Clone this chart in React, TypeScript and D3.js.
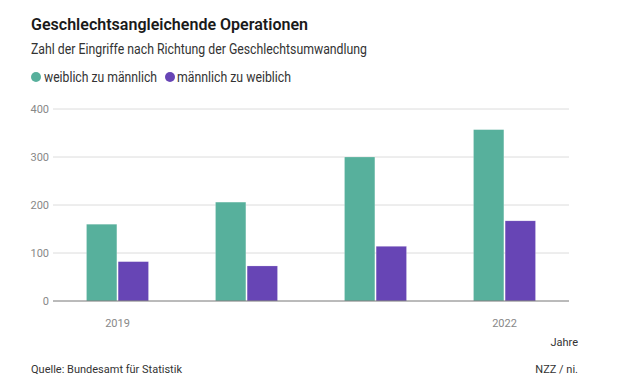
import React from 'react';
import { scaleBand, scaleLinear } from 'd3';

const years = ['2019', '2020', '2021', '2022'];
const series = ['weiblich zu männlich', 'männlich zu weiblich'];
const femaleToMale = [160, 206, 300, 357];
const maleToFemale = [82, 73, 114, 167];
const yTicks = [0, 100, 200, 300, 400];
const xLabels = ['2019', '2022'];
const colors = ['#57b09c', '#6745b5'];

const width = 640;
const height = 391;
const margin = { top: 109, right: 71, bottom: 90, left: 53 };
const font = 'Roboto, "Noto Sans", sans-serif';

// legend item positions: circle x, text x, text width
const legendPos = [
  { cx: 36, tx: 44, w: 113 },
  { cx: 170, tx: 177, w: 114 },
];

const App = () => {
  const innerWidth = width - margin.left - margin.right;
  const innerHeight = height - margin.top - margin.bottom;

  const xScale = scaleBand().domain(years).range([0, innerWidth]).padding(0);
  const groupWidth = 62;
  const inner = scaleBand()
    .domain(series)
    .range([-groupWidth / 2, groupWidth / 2])
    .paddingInner(0.04);
  const yScale = scaleLinear().domain([0, 400]).range([innerHeight, 0]);

  const values = [femaleToMale, maleToFemale];

  return (
    <svg width={width} height={height} style={{ position: 'absolute', left: 0, top: 0 }}>
      <rect width={width} height={height} fill="#fff" />
      <text x={31} y={30} fontFamily={font} fontWeight={600} fontSize={17} fill="#1a1a1a"
        textLength={277} lengthAdjust="spacingAndGlyphs">
        Geschlechtsangleichende Operationen
      </text>
      <text x={31} y={54} fontFamily={font} fontSize={14} fill="#333"
        textLength={336} lengthAdjust="spacingAndGlyphs">
        Zahl der Eingriffe nach Richtung der Geschlechtsumwandlung
      </text>
      <g>
        {series.map((s, j) => (
          <g key={s}>
            <circle cx={legendPos[j].cx} cy={77} r={5} fill={colors[j]} />
            <text x={legendPos[j].tx} y={81.5} fontFamily={font} fontSize={14} fill="#333"
              textLength={legendPos[j].w} lengthAdjust="spacingAndGlyphs">
              {s}
            </text>
          </g>
        ))}
      </g>
      <g transform={`translate(${margin.left}, ${margin.top})`}>
        {yTicks.map(t => (
          <g key={t} transform={`translate(0, ${yScale(t)})`}>
            {t > 0 && <line x1={0} x2={innerWidth} stroke="#dcdcdc" strokeWidth={1} />}
            <text x={-4} dy="0.32em" textAnchor="end" fontFamily={font} fontSize={11} fill="#888">
              {t}
            </text>
          </g>
        ))}
        {years.map((yr, i) => (
          <g key={yr} transform={`translate(${(xScale(yr) ?? 0) + xScale.bandwidth() / 2}, 0)`}>
            {series.map((s, j) => (
              <rect
                key={s}
                x={inner(s)}
                y={yScale(values[j][i])}
                width={inner.bandwidth()}
                height={innerHeight - yScale(values[j][i])}
                fill={colors[j]}
                stroke="#fff"
                strokeOpacity={0.4}
                strokeWidth={0.5}
              />
            ))}
          </g>
        ))}
        <line x1={0} x2={innerWidth} y1={innerHeight} y2={innerHeight} stroke="#777" strokeWidth={1} />
        {xLabels.map(yr => (
          <text
            key={yr}
            x={(xScale(yr) ?? 0) + xScale.bandwidth() / 2}
            y={innerHeight + 26}
            textAnchor="middle"
            fontFamily={font}
            fontSize={11}
            fill="#888"
          >
            {yr}
          </text>
        ))}
        <text x={innerWidth + 9} y={innerHeight + 45} textAnchor="end" fontFamily={font} fontSize={11} fill="#333">
          Jahre
        </text>
      </g>
      <text x={31} y={373} fontFamily={font} fontSize={11} fill="#333">
        Quelle: Bundesamt für Statistik
      </text>
      <text x={578} y={373} textAnchor="end" fontFamily={font} fontSize={11} fill="#333">
        NZZ / ni.
      </text>
    </svg>
  );
};

export default App;
